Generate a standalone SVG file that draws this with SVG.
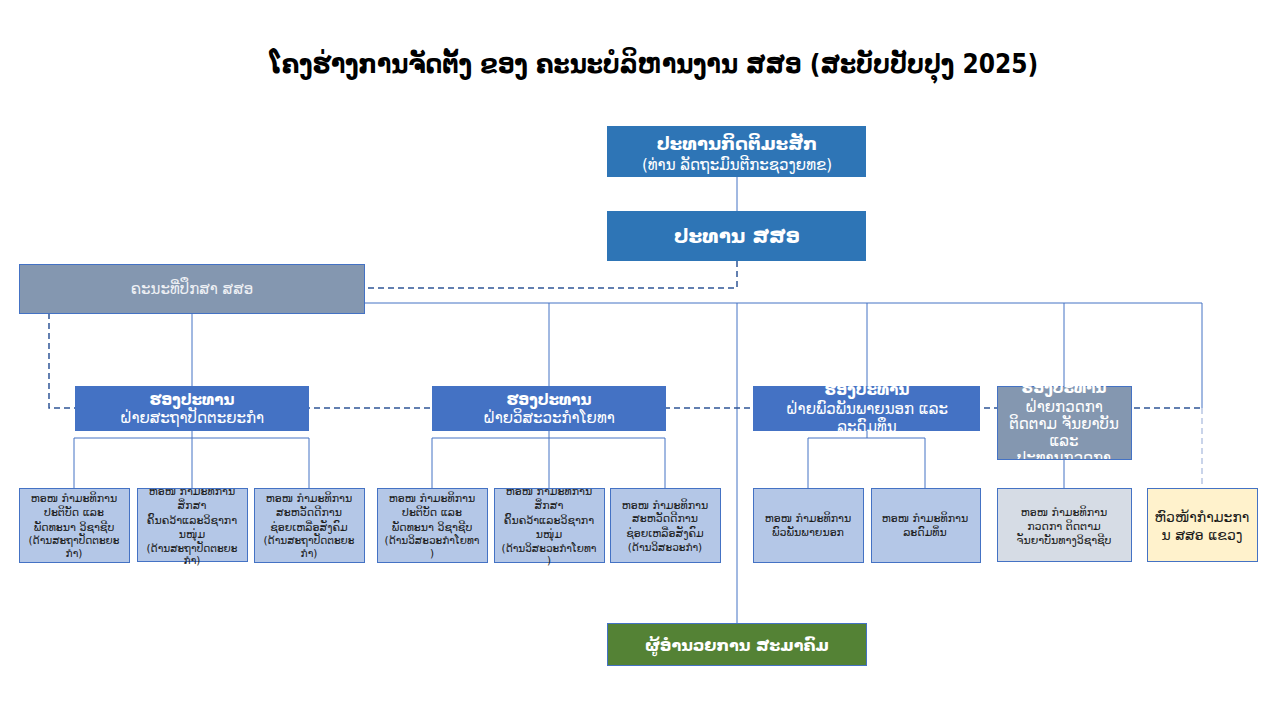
<svg xmlns="http://www.w3.org/2000/svg" width="1280" height="720" viewBox="0 0 1280 720">
<defs>
<style>
text{font-family:"DejaVu Sans","Noto Sans",sans-serif;text-anchor:middle;dominant-baseline:central}
.t{font-family:"DejaVu Sans Condensed","DejaVu Sans",sans-serif;font-size:26px;font-weight:bold;fill:#000}
.w{fill:#fff}
.b{font-weight:bold}
.k{fill:#1a1a1a;font-size:11px}
.ks{fill:#1a1a1a;font-size:10.5px}
.ln{stroke:#4472C4;stroke-width:1;fill:none}
.ds{stroke:#2F5597;stroke-width:1.5;fill:none;stroke-dasharray:6 4}
.ld{stroke:#C9D4EA;stroke-width:2;fill:none;stroke-dasharray:6 4}
.top{fill:#2E75B6}
.vp{fill:#4472C4}
.gr{fill:#8497B0;stroke:#4472C4;stroke-width:1}
.sb{fill:#B4C7E7;stroke:#4472C4;stroke-width:1}
</style>
<clipPath id="c3"><rect x="753" y="386" width="227" height="45"/></clipPath>
<clipPath id="c4"><rect x="997" y="386" width="134" height="73"/></clipPath>
<clipPath id="cs2"><rect x="137" y="488" width="110" height="78"/></clipPath>
<clipPath id="cs5"><rect x="494" y="488" width="110" height="78"/></clipPath>
</defs>
<rect width="1280" height="720" fill="#fff"/>
<text class="t" x="654" y="64">ໂຄງຮ່າງການຈັດຕັ້ງ ຂອງ ຄະນະບໍລິຫານງານ ສສອ (ສະບັບປັບປຸງ 2025)</text>
<g id="connectors">
<line class="ln" x1="737" y1="177" x2="737" y2="211"/>
<path class="ds" d="M737 261 V288 H365"/>
<line class="ln" x1="737" y1="303" x2="737" y2="623"/>
<line class="ln" x1="192" y1="303" x2="1202" y2="303"/>
<line class="ln" x1="192" y1="313" x2="192" y2="386"/>
<line class="ln" x1="549" y1="303" x2="549" y2="386"/>
<line class="ln" x1="867" y1="303" x2="867" y2="386"/>
<line class="ln" x1="1064" y1="303" x2="1064" y2="386"/>
<line class="ln" x1="1202" y1="303" x2="1202" y2="408"/>
<path class="ds" d="M49 313 V408 H1202"/>
<line class="ld" x1="1202" y1="408" x2="1202" y2="488"/>
<path class="ln" d="M192 430 V438 M74 488 V438 H309 V488 M192 438 V488"/>
<path class="ln" d="M549 430 V438 M432 488 V438 H665 V488 M549 438 V488"/>
<path class="ln" d="M867 430 V438 M808 488 V438 H925 V488"/>
<line class="ln" x1="1064" y1="459" x2="1064" y2="488"/>
</g>
<g id="n-honor">
<rect class="top" x="607" y="126" width="259" height="51"/>
<text class="w b" x="737" y="143" font-size="18">ປະທານກິດຕິມະສັກ</text>
<text class="w" x="737" y="165" font-size="15">(ທ່ານ ລັດຖະມົນຕີກະຊວງຍທຂ)</text>
</g>
<g id="n-president">
<rect class="top" x="607" y="211" width="259" height="50"/>
<text class="w b" x="737" y="236" font-size="20">ປະທານ ສສອ</text>
</g>
<g id="n-advisory">
<rect class="gr" x="19.5" y="264.5" width="345" height="49"/>
<text x="192" y="289" font-size="15" fill="#EEF0F4">ຄະນະທີ່ປຶກສາ ສສອ</text>
</g>
<g id="n-vp1">
<rect class="vp" x="75" y="386" width="234" height="45"/>
<text class="w b" x="192" y="400" font-size="15">ຮອງປະທານ</text>
<text class="w" x="192" y="418" font-size="15">ຝ່າຍສະຖາປັດຕະຍະກຳ</text>
</g>
<g id="n-vp2">
<rect class="vp" x="432" y="386" width="234" height="45"/>
<text class="w b" x="549" y="400" font-size="15">ຮອງປະທານ</text>
<text class="w" x="549" y="418" font-size="15">ຝ່າຍວິສະວະກຳໂຍທາ</text>
</g>
<g id="n-vp3">
<rect class="vp" x="753" y="386" width="227" height="45"/>
<g clip-path="url(#c3)">
<text class="w b" x="867" y="390" font-size="15">ຮອງປະທານ</text>
<text class="w" x="867" y="409" font-size="15">ຝ່າຍພົວພັນພາຍນອກ ແລະ</text>
<text class="w" x="867" y="427" font-size="15">ລະດົມທຶນ</text>
</g>
</g>
<g id="n-vp4">
<rect class="gr" x="997.5" y="386.5" width="134" height="73"/>
<g clip-path="url(#c4)">
<text class="w b" x="1064" y="388" font-size="15">ຮອງປະທານ</text>
<text class="w" x="1064" y="407" font-size="15">ຝ່າຍກວດກາ</text>
<text class="w" x="1064" y="424" font-size="15">ຕິດຕາມ ຈັນຍາບັນ</text>
<text class="w" x="1064" y="441" font-size="15">ແລະ</text>
<text class="w" x="1064" y="458" font-size="15">ປະທານກວດກາ</text>
</g>
</g>
<g id="n-s1">
<rect class="sb" x="19.5" y="488.5" width="110" height="74"/>
<text class="k" x="74" y="498">ຫອໜ ກຳມະທິການ</text>
<text class="k" x="74" y="512">ປະຕິບັດ ແລະ</text>
<text class="k" x="74" y="527">ພັດທະນາ ວິຊາຊີບ</text>
<text class="ks" x="74" y="540">(ດ້ານສະຖາປັດຕະຍະ</text>
<text class="ks" x="74" y="553">ກຳ)</text>
</g>
<g id="n-s2">
<rect class="sb" x="137.5" y="488.5" width="110" height="73"/>
<g clip-path="url(#cs2)">
<text class="k" x="192" y="491">ຫອໜ ກຳມະທິການ</text>
<text class="k" x="192" y="505">ສຶກສາ</text>
<text class="k" x="192" y="520">ຄົ້ນຄວ້າແລະວິຊາກາ</text>
<text class="k" x="192" y="534">ນໜຸ່ມ</text>
<text class="ks" x="192" y="548">(ດ້ານສະຖາປັດຕະຍະ</text>
<text class="ks" x="192" y="560">ກຳ)</text>
</g>
</g>
<g id="n-s3">
<rect class="sb" x="254.5" y="488.5" width="110" height="74"/>
<text class="k" x="309" y="498">ຫອໜ ກຳມະທິການ</text>
<text class="k" x="309" y="512">ສະຫວັດດີການ</text>
<text class="k" x="309" y="527">ຊ່ອຍເຫລືອສັງຄົມ</text>
<text class="ks" x="309" y="540">(ດ້ານສະຖາປັດຕະຍະ</text>
<text class="ks" x="309" y="553">ກຳ)</text>
</g>
<g id="n-s4">
<rect class="sb" x="377.5" y="488.5" width="110" height="74"/>
<text class="k" x="432" y="498">ຫອໜ ກຳມະທິການ</text>
<text class="k" x="432" y="512">ປະຕິບັດ ແລະ</text>
<text class="k" x="432" y="527">ພັດທະນາ ວິຊາຊີບ</text>
<text class="ks" x="432" y="540">(ດ້ານວິສະວະກຳໂຍທາ</text>
<text class="ks" x="432" y="553">)</text>
</g>
<g id="n-s5">
<rect class="sb" x="494.5" y="488.5" width="110" height="74"/>
<g clip-path="url(#cs5)">
<text class="k" x="549" y="491">ຫອໜ ກຳມະທິການ</text>
<text class="k" x="549" y="505">ສຶກສາ</text>
<text class="k" x="549" y="520">ຄົ້ນຄວ້າແລະວິຊາກາ</text>
<text class="k" x="549" y="534">ນໜຸ່ມ</text>
<text class="ks" x="549" y="548">(ດ້ານວິສະວະກຳໂຍທາ</text>
<text class="ks" x="549" y="560">)</text>
</g>
</g>
<g id="n-s6">
<rect class="sb" x="610.5" y="488.5" width="110" height="74"/>
<text class="k" x="665" y="505">ຫອໜ ກຳມະທິການ</text>
<text class="k" x="665" y="518">ສະຫວັດດີການ</text>
<text class="k" x="665" y="533">ຊ່ອຍເຫລືອສັງຄົມ</text>
<text class="ks" x="665" y="547">(ດ້ານວິສະວະກຳ)</text>
</g>
<g id="n-s7">
<rect class="sb" x="753.5" y="488.5" width="110" height="74"/>
<text class="k" x="808" y="518">ຫອໜ ກຳມະທິການ</text>
<text class="k" x="808" y="532">ພົວພັນພາຍນອກ</text>
</g>
<g id="n-s8">
<rect class="sb" x="871.5" y="488.5" width="109" height="74"/>
<text class="k" x="925" y="518">ຫອໜ ກຳມະທິການ</text>
<text class="k" x="925" y="532">ລະດົມທຶນ</text>
</g>
<g id="n-s9">
<rect x="997.5" y="488.5" width="134" height="73" fill="#D6DCE5" stroke="#4472C4"/>
<text class="k" x="1064" y="512" fill="#333">ຫອໜ ກຳມະທິການ</text>
<text class="k" x="1064" y="526" fill="#333">ກວດກາ ຕິດຕາມ</text>
<text class="k" x="1064" y="540" fill="#333">ຈັນຍາບັນທາງວິຊາຊີບ</text>
</g>
<g id="n-province">
<rect x="1147.5" y="488.5" width="110" height="73" fill="#FFF2CC" stroke="#4472C4"/>
<text x="1202" y="517" font-size="14" fill="#1a1a1a">ຫົວໜ້າກຳມະກາ</text>
<text x="1202" y="535" font-size="14" fill="#1a1a1a">ນ ສສອ ແຂວງ</text>
</g>
<g id="n-director">
<rect x="607.5" y="623.5" width="259" height="42" fill="#548235" stroke="#4472C4"/>
<text class="w b" x="737" y="645" font-size="16">ຜູ້ອຳນວຍການ ສະມາຄົມ</text>
</g>
</svg>
